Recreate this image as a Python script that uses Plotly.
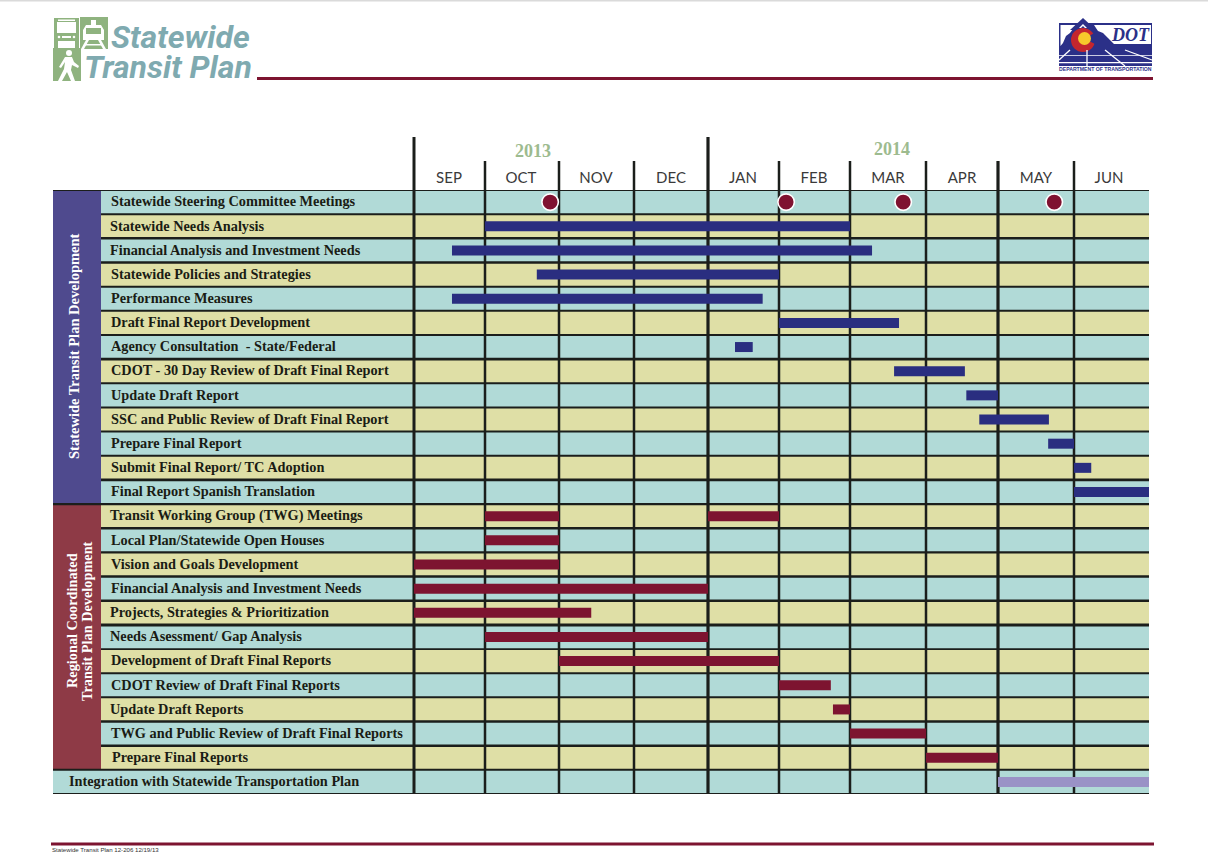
import numpy as np
import plotly.graph_objects as go

# ---------- data ----------
months = ["SEP", "OCT", "NOV", "DEC", "JAN", "FEB", "MAR", "APR", "MAY", "JUN"]
tasks = [
    "Statewide Steering Committee Meetings", "Statewide Needs Analysis",
    "Financial Analysis and Investment Needs", "Statewide Policies and Strategies",
    "Performance Measures", "Draft Final Report Development",
    "Agency Consultation  - State/Federal", "CDOT - 30 Day Review of Draft Final Report",
    "Update Draft Report", "SSC and Public Review of Draft Final Report",
    "Prepare Final Report", "Submit Final Report/ TC Adoption",
    "Final Report Spanish Translation", "Transit Working Group (TWG) Meetings",
    "Local Plan/Statewide Open Houses", "Vision and Goals Development",
    "Financial Analysis and Investment Needs", "Projects, Strategies & Prioritization",
    "Needs Asessment/ Gap Analysis", "Development of Draft Final Reports",
    "CDOT Review of Draft Final Reports", "Update Draft Reports",
    "TWG and Public Review of Draft Final Reports", "Prepare Final Reports",
    "Integration with Statewide Transportation Plan",
]
# times are in months after the start of September 2013
meeting_rows = [0, 0, 0, 0]
meeting_times = [1.88, 5.10, 6.70, 8.74]
blue_rows = [1, 2, 3, 4, 5, 6, 7, 8, 9, 10, 11, 12]
blue_start = [1.0, 0.535, 1.70, 0.535, 5.0, 4.38, 6.58, 7.56, 7.74, 8.66, 9.0, 9.0]
blue_end = [6.0, 6.29, 5.0, 4.77, 6.645, 4.63, 7.54, 8.0, 8.67, 9.0, 9.23, 10.0]
red_rows = [13, 13, 14, 15, 16, 17, 18, 19, 20, 21, 22, 23]
red_start = [1.0, 4.0, 1.0, 0.0, 0.0, 0.0, 1.0, 2.0, 5.0, 5.76, 6.0, 7.0]
red_end = [2.0, 5.0, 2.0, 2.0, 4.0, 2.43, 4.0, 5.0, 5.73, 6.0, 7.0, 8.0]
lilac_rows = [24]
lilac_start = [8.0]
lilac_end = [10.0]

# ---------- layout constants ----------
W, H = 1208, 862
LEFT, RIGHT, TOP, BOTTOM = 53, 1149, 190, 794
X0 = 414
edges_px = np.array([414, 485, 559, 634, 708, 779, 850, 926, 998, 1074, 1149], float)
label_px = np.array([449, 521, 596, 671, 743, 814, 888, 962, 1036, 1109], float)
line_w = [3, 2.5, 2.5, 2.5, 3.2, 2.5, 2.5, 2.5, 3.2, 2.5, 0]
row_text_px = [109, 108, 108, 109, 109, 109, 109, 109, 109, 109, 109, 109, 109,
               108, 109, 109, 109, 108, 108, 109, 109, 108, 109, 110, 67]
hline_w = [2, 2, 2.6, 2.6, 2, 2, 2, 2.6, 2, 2, 2, 2, 2.6, 2.4, 2.6, 2.4, 2.4, 2.4, 3, 1.8, 2, 2, 2.6, 2.6, 2, 2]
TEAL, KHAKI = "#B1DAD7", "#DFDFA6"
INK = "#1B1E1B"
MAROON, NAVY, LILAC = "#7D1430", "#2A2E80", "#9A92C6"
GREEN, SLATE, DOTBLUE = "#8FB37F", "#7FAAB0", "#2B3088"


def tx(t):
    """Month time -> axis unit."""
    return np.interp(t, np.arange(len(edges_px)), edges_px - X0)


def ax(px):
    return px - X0


shapes = []
annotations = []


def prect(x0, y0, x1, y1, color, layer="above"):
    shapes.append(dict(type="rect", xref="paper", yref="paper", layer=layer, x0=x0 / W, x1=x1 / W,
                       y0=1 - y0 / H, y1=1 - y1 / H, fillcolor=color, line_width=0))


def pcirc(cx, cy, r, color):
    shapes.append(dict(type="circle", xref="paper", yref="paper", layer="above", x0=(cx - r) / W,
                       x1=(cx + r) / W, y0=1 - (cy - r) / H, y1=1 - (cy + r) / H,
                       fillcolor=color, line_width=0))


def ppoly(pts, color, close=True, width=0):
    d = "M " + " L ".join(f"{x / W:.5f},{1 - y / H:.5f}" for x, y in pts) + (" Z" if close else "")
    s = dict(type="path", xref="paper", yref="paper", layer="above", path=d)
    if close:
        s.update(fillcolor=color, line_width=0)
    else:
        s.update(line=dict(color=color, width=width))
    shapes.append(s)


def ptext(x, y, text, size, color, family, anchor="left", bold=False, italic=False, angle=0):
    if bold:
        text = f"<b>{text}</b>"
    if italic:
        text = f"<i>{text}</i>"
    annotations.append(dict(xref="paper", yref="paper", x=x / W, y=1 - y / H, text=text, showarrow=False,
                            xanchor=anchor, yanchor="middle", textangle=angle,
                            font=dict(size=size, color=color, family=family)))


# rows
for i in range(len(tasks)):
    x_from = LEFT if i == 24 else 101
    shapes.append(dict(type="rect", xref="x", yref="y", layer="below", x0=ax(x_from), x1=ax(RIGHT),
                       y0=i, y1=i + 1, fillcolor=TEAL if i % 2 == 0 else KHAKI, line_width=0))
    annotations.append(dict(xref="x", yref="y", x=ax(row_text_px[i]), y=i + 0.47, text=f"<b>{tasks[i]}</b>",
                            showarrow=False, xanchor="left", yanchor="middle",
                            font=dict(size=14.3, color="#1A1C14", family="Liberation Serif")))
# group blocks
shapes.append(dict(type="rect", xref="x", yref="y", layer="below", x0=ax(LEFT), x1=ax(101), y0=0, y1=13,
                   fillcolor="#4F4A8E", line_width=0))
shapes.append(dict(type="rect", xref="x", yref="y", layer="below", x0=ax(LEFT), x1=ax(101), y0=13, y1=24,
                   fillcolor="#8E3A46", line_width=0))
# vertical rules, inside the grid
for k, e in enumerate(edges_px[:-1]):
    shapes.append(dict(type="line", xref="x", yref="y", layer="below", x0=ax(e), x1=ax(e),
                       y0=0, y1=25, line=dict(color=INK, width=line_w[k])))
# horizontal rules: rows inside a group start at the label column
for i in range(len(tasks) + 1):
    x_from = LEFT if i in (0, 13, 24, 25) else 101
    shapes.append(dict(type="line", xref="x", yref="y", layer="below", x0=ax(x_from), x1=ax(RIGHT), y0=i, y1=i,
                       line=dict(color=INK, width=hline_w[i])))
# vertical rules, header part
for k, e in enumerate(edges_px[:-1]):
    top = 137 if k in (0, 4) else 161
    shapes.append(dict(type="line", xref="x", yref="paper", layer="above", x0=ax(e), x1=ax(e),
                       y0=1 - TOP / H, y1=1 - top / H, line=dict(color=INK, width=line_w[k])))

ptext(74, 346, "Statewide Transit Plan Development", 14.5, "white", "Liberation Serif", "center", bold=True, angle=-90)
ptext(72, 621, "Regional Coordinated", 14.3, "white", "Liberation Serif", "center", bold=True, angle=-90)
ptext(87, 621, "Transit Plan Development", 14.3, "white", "Liberation Serif", "center", bold=True, angle=-90)
ptext(533, 151, "2013", 18, "#9DBB8F", "Liberation Serif", "center", bold=True)
ptext(892, 149, "2014", 18, "#9DBB8F", "Liberation Serif", "center", bold=True)

# page rules
prect(0, 0, W, 1.5, "#DADADA")
prect(257, 77, 1153, 80, MAROON)
prect(51, 842.5, 1154, 845.5, MAROON)
ptext(50, 849, "Statewide Transit Plan 12-206 12/19/13", 6.1, "#333333", "Liberation Sans")

# transit logo: bus
prect(54, 18, 79, 41, GREEN)
prect(57, 22, 76, 33, "white")
prect(54, 41, 58, 48, GREEN)
prect(75, 41, 79, 48, GREEN)
pcirc(59, 37, 1.3, "white")
pcirc(74, 37, 1.3, "white")
prect(62, 36, 71, 38, "white")
prect(58, 19.5, 75, 21, "white")
# transit logo: train
prect(80, 17, 108, 49, GREEN)
ppoly([(86, 25), (101, 25), (104, 30), (104, 40), (83, 40), (83, 30)], "white")
prect(86, 28, 101, 34, GREEN)
ppoly([(86, 40), (89, 40), (84, 49), (81, 49)], "white")
ppoly([(98, 40), (101, 40), (106, 49), (103, 49)], "white")
prect(85, 44, 102, 45.5, "white")
prect(91, 20, 96, 25, "white")
# transit logo: walker
prect(53, 48, 81, 81, GREEN)
pcirc(69, 53, 3, "white")
ppoly([(65, 57), (72, 57), (74, 62), (79, 66), (78, 68), (72, 65), (71, 70), (75, 81), (71, 81), (67, 72), (62, 81),
       (58, 81), (64, 69), (65, 62), (61, 68), (59, 67)], "white")
ptext(109, 37, "Statewide", 32, SLATE, "Roboto", bold=True, italic=True)
ptext(82, 67, "Transit Plan", 32, SLATE, "Roboto", bold=True, italic=True)

# CDOT logo
prect(1059, 23, 1152, 66, DOTBLUE)
ppoly([(1060.5, 25), (1076, 25), (1070, 33), (1066, 36), (1063, 43), (1060.5, 46)], "white")
ppoly([(1094, 25), (1151, 25), (1151, 44), (1114, 44), (1108, 38), (1103, 33), (1098, 31)], "white")
ppoly([(1083, 18), (1096, 30), (1070, 30)], DOTBLUE)
ppoly([(1083, 24), (1087, 28), (1085, 28), (1083, 26), (1081, 28), (1079, 28)], "white")
pcirc(1083, 40, 12, "#C4262E")
ppoly([(1085, 39), (1097, 31), (1097, 45)], DOTBLUE)
pcirc(1084.5, 38.5, 6.5, "#F7C92B")
ptext(1109, 35, "DOT", 18, DOTBLUE, "Liberation Serif", bold=True, italic=True)
for seg in [[(1059, 60), (1070, 50)], [(1087, 50), (1087, 66)], [(1105, 50), (1125, 66)], [(1125, 50), (1152, 60)]]:
    ppoly(seg, "white", close=False, width=1.3)
prect(1059, 55, 1152, 55.8, "white")
prect(1059, 62, 1152, 63.2, "white")
ptext(1105.5, 69, "DEPARTMENT OF TRANSPORTATION", 5.15, DOTBLUE, "Liberation Sans", "center", bold=True)

# ---------- figure ----------
fig = go.Figure()


def bars(rows, start, end, color):
    s, e = tx(np.array(start)), tx(np.array(end))
    fig.add_trace(go.Bar(orientation="h", y=np.array(rows) + 0.5, base=s, x=e - s, width=0.414,
                         marker=dict(color=color, line_width=0), hoverinfo="skip", showlegend=False))


bars(blue_rows, blue_start, blue_end, NAVY)
bars(red_rows, red_start, red_end, MAROON)
bars(lilac_rows, lilac_start, lilac_end, LILAC)
fig.add_trace(go.Scatter(x=tx(np.array(meeting_times)), y=np.array(meeting_rows) + 0.5, mode="markers",
                         marker=dict(size=16.5, color="#7F1230", line=dict(color="white", width=1.6)),
                         hoverinfo="skip", showlegend=False))

fig.update_layout(
    width=W, height=H, autosize=False, margin=dict(l=0, r=0, t=0, b=0),
    paper_bgcolor="white", plot_bgcolor="rgba(0,0,0,0)", barmode="overlay",
    shapes=shapes, annotations=annotations, showlegend=False,
    xaxis=dict(domain=[LEFT / W, RIGHT / W], range=[ax(LEFT), ax(RIGHT)], side="top", showgrid=False, zeroline=False,
               showline=False, tickmode="array", tickvals=list(label_px - X0), ticktext=months,
               ticks="outside", ticklen=0, tickcolor="rgba(0,0,0,0)",
               tickfont=dict(size=15, color="#3A3A3A", family="Lato")),
    yaxis=dict(domain=[1 - BOTTOM / H, 1 - TOP / H], range=[25, 0], visible=False),
)
fig.write_html("out.html", config=dict(displayModeBar=False), post_script="document.body.style.margin='0';")
